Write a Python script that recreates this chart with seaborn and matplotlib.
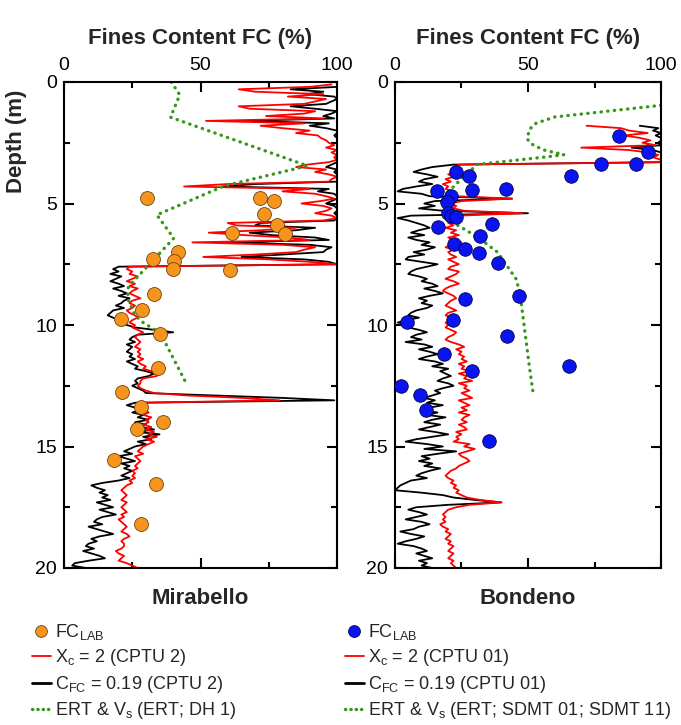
import numpy as np
import pandas as pd
import matplotlib
matplotlib.use("Agg")
import matplotlib.pyplot as plt
from matplotlib.lines import Line2D
from matplotlib.ticker import MultipleLocator
import seaborn as sns

# ---------------- data ----------------
# Mirabello CPTU 2 profiles, sampled every 0.1 m from 0.1 m to 20.0 m
mir_depth = np.round(np.arange(1, 201) * 0.1, 2)
mir_xc = [
    98, 90, 64, 70, 95, 82, 96, 92, 88, 64,
    68, 92, 88, 74, 95, 52, 88, 72, 80, 90,
    85, 93, 94, 96, 97, 99, 96, 100, 98, 100,
    99, 100, 97, 89, 85, 96, 92, 97, 100, 98,
    97, 60, 44, 90, 80, 92, 96, 99, 94, 87,
    95, 98, 96, 92, 98, 100, 95, 60, 63, 85,
    72, 53, 66, 82, 90, 47, 80, 92, 88, 85,
    70, 51, 75, 90, 100, 24, 23, 25, 24, 27,
    25, 23, 26, 24, 27, 25, 24, 26, 28, 25,
    24, 26, 25, 23, 24, 26, 27, 25, 24, 26,
    25, 27, 29, 27, 26, 27, 28, 27, 26, 28,
    27, 28, 27, 29, 27, 28, 30, 29, 32, 35,
    34, 29, 28, 28, 27, 28, 30, 33, 45, 65,
    79, 28, 27, 29, 30, 31, 29, 32, 30, 31,
    29, 32, 30, 33, 31, 34, 30, 33, 31, 29,
    28, 27, 29, 26, 27, 28, 27, 26, 27, 25,
    26, 25, 26, 24, 25, 23, 22, 21, 22, 23,
    22, 21, 23, 22, 21, 22, 23, 21, 22, 20,
    21, 22, 23, 22, 21, 23, 24, 22, 21, 22,
    22, 21, 19, 20, 22, 21, 20, 23, 25, 27,
]
mir_cfc = [
    100, 100, 83, 95, 89, 99, 100, 98, 96, 83,
    92, 100, 98, 95, 99, 66, 97, 90, 96, 100,
    100, 99, 100, 100, 100, 100, 100, 100, 100, 100,
    100, 100, 100, 98, 96, 100, 99, 100, 100, 100,
    100, 70, 58, 97, 93, 99, 100, 100, 98, 96,
    99, 100, 100, 99, 100, 100, 99, 72, 70, 92,
    85, 68, 76, 92, 97, 60, 90, 98, 96, 95,
    80, 65, 88, 97, 100, 20, 18, 20, 17, 21,
    19, 17, 20, 22, 18, 21, 23, 20, 24, 22,
    21, 19, 22, 18, 17, 16, 18, 21, 20, 23,
    26, 33, 40, 27, 25, 24, 26, 23, 25, 24,
    23, 25, 24, 26, 23, 25, 27, 26, 30, 33,
    31, 27, 26, 27, 25, 27, 29, 30, 55, 80,
    99, 26, 23, 26, 28, 25, 29, 27, 31, 26,
    30, 28, 33, 27, 35, 29, 32, 27, 30, 26,
    24, 22, 25, 20, 23, 26, 21, 24, 22, 25,
    23, 21, 24, 20, 14, 10, 12, 15, 13, 16,
    14, 17, 12, 15, 18, 13, 16, 19, 14, 12,
    11, 14, 9, 12, 15, 18, 13, 10, 12, 9,
    8, 11, 7, 10, 13, 15, 9, 4, 3, 8,
]
mir_ert_fc = [39.3, 42.4, 39.0, 89.2, 58.6, 34.0, 40.2, 23.6, 23.3, 26.0, 29.0, 35.3, 45.1]
mir_ert_d = [0.0, 0.53, 1.45, 3.45, 4.28, 5.47, 6.43, 8.42, 8.9, 9.6, 9.9, 10.34, 12.47]
mir_lab_fc = [30.4, 71.7, 77.1, 73.2, 78.2, 80.9, 61.6, 41.8, 32.5, 40.2, 40.1, 60.7,
              32.8, 28.7, 20.7, 35.2, 34.4, 21.3, 28.1, 36.3, 26.8, 18.3, 33.6, 28.3]
mir_lab_d = [4.78, 4.78, 4.90, 5.44, 5.88, 6.25, 6.20, 7.00, 7.28, 7.38, 7.70, 7.75,
             8.74, 9.38, 9.74, 10.36, 11.76, 12.76, 13.39, 14.00, 14.29, 15.56, 16.54, 18.20]

# Bondeno CPTU 01 profiles, sampled every 0.1 m from 1.8 m to 20.0 m
bon_depth = np.round(np.arange(18, 201) * 0.1, 2)
bon_xc = [
    72, 85,
    88, 95, 86, 92, 96, 93, 98, 70, 88, 95,
    99, 97, 100, 100, 24, 22, 21, 24, 20, 22,
    19, 21, 18, 20, 19, 22, 20, 23, 44, 25,
    21, 23, 22, 26, 48, 24, 21, 23, 20, 22,
    19, 23, 21, 24, 20, 22, 25, 21, 19, 22,
    20, 21, 23, 20, 22, 24, 21, 20, 24, 23,
    21, 19, 22, 24, 21, 19, 18, 20, 22, 23,
    21, 20, 19, 21, 23, 20, 19, 21, 22, 19,
    20, 19, 21, 23, 22, 20, 19, 21, 24, 26,
    23, 25, 24, 26, 25, 27, 24, 26, 25, 28,
    24, 27, 26, 29, 24, 27, 26, 28, 25, 27,
    29, 24, 26, 28, 25, 27, 24, 28, 26, 25,
    27, 24, 26, 27, 23, 25, 23, 24, 22, 28,
    26, 30, 27, 24, 25, 27, 28, 26, 24, 23,
    21, 20, 19, 20, 22, 21, 23, 22, 24, 23,
    25, 27, 32, 40, 28, 23, 20, 19, 18, 19,
    18, 19, 17, 18, 20, 19, 21, 20, 19, 21,
    20, 22, 21, 20, 22, 21, 20, 22, 21, 22,
    23,
]
bon_cfc = [
    92, 99,
    97, 100, 98, 100, 100, 99, 100, 89, 97, 100,
    100, 100, 100, 100, 22, 14, 10, 7, 12, 16,
    11, 9, 14, 8, 3, 1, 10, 13, 44, 15,
    11, 15, 9, 18, 50, 6, 1, 5, 8, 11,
    13, 9, 6, 11, 5, 8, 13, 10, 15, 12,
    7, 11, 5, 4, 10, 16, 12, 8, 6, 5,
    9, 12, 10, 14, 16, 11, 15, 18, 13, 9,
    12, 10, 14, 12, 8, 6, 5, 9, 4, 1,
    7, 5, 9, 12, 8, 6, 10, 4, 11, 14,
    9, 13, 16, 12, 9, 15, 18, 14, 20, 17,
    19, 21, 18, 16, 20, 22, 18, 15, 17, 14,
    11, 15, 12, 18, 13, 10, 16, 12, 19, 14,
    11, 17, 13, 9, 15, 20, 14, 8, 4, 12,
    18, 11, 23, 16, 10, 13, 9, 14, 11, 17,
    13, 10, 8, 12, 6, 4, 2, 1, 0, 10,
    18, 22, 30, 40, 20, 8, 5, 9, 12, 8,
    4, 10, 13, 9, 7, 2, 6, 11, 8, 4,
    1, 7, 10, 12, 8, 11, 14, 9, 12, 10,
    14,
]
bon_ert_fc = [100, 80, 60, 53, 50.5, 49.7, 52, 56, 63.5, 58, 31, 25, 20, 18.5, 21.5, 31, 38.5, 45.5, 47, 50.5, 52]
bon_ert_d = [0.96, 1.2, 1.44, 1.7, 1.95, 2.35, 2.6, 2.8, 2.99, 3.07, 3.39, 3.98, 4.53, 5.35, 5.76, 6.38, 7.0, 8.1, 8.7, 11.7, 12.85]
bon_lab_fc = [84.2, 95.1, 77.4, 90.6, 66.2, 23.0, 27.7, 28.8, 41.7, 15.9, 20.9, 19.7, 19.9, 20.9, 22.8, 36.4, 16.3,
              32.0, 22.3, 26.5, 31.6, 38.7, 46.6, 26.4, 4.6, 21.7, 42.0, 18.5, 65.4, 28.9, 2.1, 9.5, 11.5, 35.4]
bon_lab_d = [2.24, 2.88, 3.39, 3.39, 3.88, 3.69, 3.88, 4.43, 4.39, 4.49, 4.70, 4.94, 5.39, 5.53, 5.57, 5.83, 5.98,
             6.34, 6.68, 6.88, 7.04, 7.45, 8.79, 8.93, 9.89, 9.79, 10.45, 11.19, 11.69, 11.88, 12.50, 12.89, 13.50, 14.79]

site_names = ["Mirabello", "Bondeno"]
legend_labels = [
    [r"FC$_{\mathregular{LAB}}$", r"X$_{\mathregular{c}}$ = 2 (CPTU 2)",
     r"C$_{\mathregular{FC}}$ = 0.19 (CPTU 2)", r"ERT & V$_{\mathregular{s}}$ (ERT; DH 1)"],
    [r"FC$_{\mathregular{LAB}}$", r"X$_{\mathregular{c}}$ = 2 (CPTU 01)",
     r"C$_{\mathregular{FC}}$ = 0.19 (CPTU 01)", r"ERT & V$_{\mathregular{s}}$ (ERT; SDMT 01; SDMT 11)"],
]

# ---------------- style ----------------
sns.set_theme(style="ticks")
plt.rcParams["font.family"] = ["Liberation Sans", "DejaVu Sans"]
plt.rcParams["mathtext.default"] = "regular"
plt.rcParams["xtick.direction"] = "in"
plt.rcParams["ytick.direction"] = "in"

RED = "#FF0000"
BLACK = "#000000"
GREEN = "#38971A"
ORANGE = "#F7941E"
BLUE = "#0A14F0"

W, H = 681, 725
fig = plt.figure(figsize=(W / 100, H / 100), dpi=100)

def fx(px):
    return px / W

def fy(py):
    return 1 - py / H

axes_px = [(64, 337), (395, 661)]
top_px, bot_px = 82, 568

sites = [
    dict(depth=mir_depth, xc=mir_xc, cfc=mir_cfc, ert_fc=mir_ert_fc, ert_d=mir_ert_d,
         lab_fc=mir_lab_fc, lab_d=mir_lab_d, color=ORANGE, edge="#6b4412", s=100),
    dict(depth=bon_depth, xc=bon_xc, cfc=bon_cfc, ert_fc=bon_ert_fc, ert_d=bon_ert_d,
         lab_fc=bon_lab_fc, lab_d=bon_lab_d, color=BLUE, edge="#00004a", s=95),
]

dot_style = (0, (0.1, 1.9))
FS_TITLE = 16
FS_TICK = 14
FS_LEG = 13

for i, (site, (x0, x1)) in enumerate(zip(sites, axes_px)):
    ax = fig.add_axes([fx(x0), fy(bot_px), fx(x1 - x0), (bot_px - top_px) / H])

    sns.lineplot(x=site["cfc"], y=site["depth"], orient="y", sort=False, estimator=None,
                 color=BLACK, linewidth=1.3, ax=ax)
    sns.lineplot(x=site["xc"], y=site["depth"], orient="y", sort=False, estimator=None,
                 color=RED, linewidth=1.3, ax=ax)
    n_before = len(ax.lines)
    sns.lineplot(x=site["ert_fc"], y=site["ert_d"], orient="y", sort=False, estimator=None,
                 color=GREEN, linewidth=2.4, ax=ax)
    for ln in ax.lines[n_before:]:
        ln.set_linestyle(dot_style)
        ln.set_dash_capstyle("round")
    sns.scatterplot(x=site["lab_fc"], y=site["lab_d"], color=site["color"], edgecolor=site["edge"],
                    linewidth=0.6, s=site["s"], ax=ax, zorder=5)

    ax.set_xlim(0, 100)
    ax.set_ylim(20, 0)
    ax.xaxis.set_major_locator(MultipleLocator(50))
    ax.xaxis.set_minor_locator(MultipleLocator(25))
    ax.yaxis.set_major_locator(MultipleLocator(5))
    ax.yaxis.set_minor_locator(MultipleLocator(2.5))
    ax.tick_params(which="both", top=True, bottom=True, left=True, right=True,
                   labeltop=True, labelbottom=False, width=1.5, colors="black")
    ax.tick_params(which="major", length=7, labelsize=FS_TICK)
    ax.tick_params(which="minor", length=4)
    ax.tick_params(axis="x", which="major", pad=6)
    ax.tick_params(axis="y", which="major", pad=5)
    for sp in ax.spines.values():
        sp.set_linewidth(1.5)
        sp.set_color("black")
        sp.set_visible(True)
    ax.set_facecolor("white")

    ax.xaxis.set_label_position("top")
    ax.set_xlabel("Fines Content FC (%)", fontsize=FS_TITLE, fontweight="bold", labelpad=9)
    if i == 0:
        ax.set_ylabel("Depth (m)", fontsize=FS_TITLE, fontweight="bold")
        ax.yaxis.set_label_coords((27 - x0) / (x1 - x0), 1 - (141 - top_px) / (bot_px - top_px))
    else:
        ax.set_ylabel("")
    ax.text(0.5, -(598 - bot_px) / (bot_px - top_px), site_names[i], transform=ax.transAxes,
            ha="center", va="center", fontsize=FS_TITLE, fontweight="bold")

    handles = [
        Line2D([], [], marker="o", linestyle="none", markerfacecolor=site["color"],
               markeredgecolor=site["edge"], markeredgewidth=0.6, markersize=8.5),
        Line2D([], [], color=RED, linewidth=1.3),
        Line2D([], [], color=BLACK, linewidth=2.0),
        Line2D([], [], color=GREEN, linewidth=2.4, linestyle=(0, (0.1, 1.5)), dash_capstyle="round"),
    ]
    leg_x = [32, 345][i]
    ax.legend(handles, legend_labels[i], loc="upper left",
              bbox_to_anchor=(fx(leg_x), fy(622)), bbox_transform=fig.transFigure,
              frameon=False, fontsize=FS_LEG, handlelength=1.05, handletextpad=0.2,
              labelspacing=0.3, borderaxespad=0, borderpad=0)

fig.savefig("out.png", dpi=100, facecolor="white")
